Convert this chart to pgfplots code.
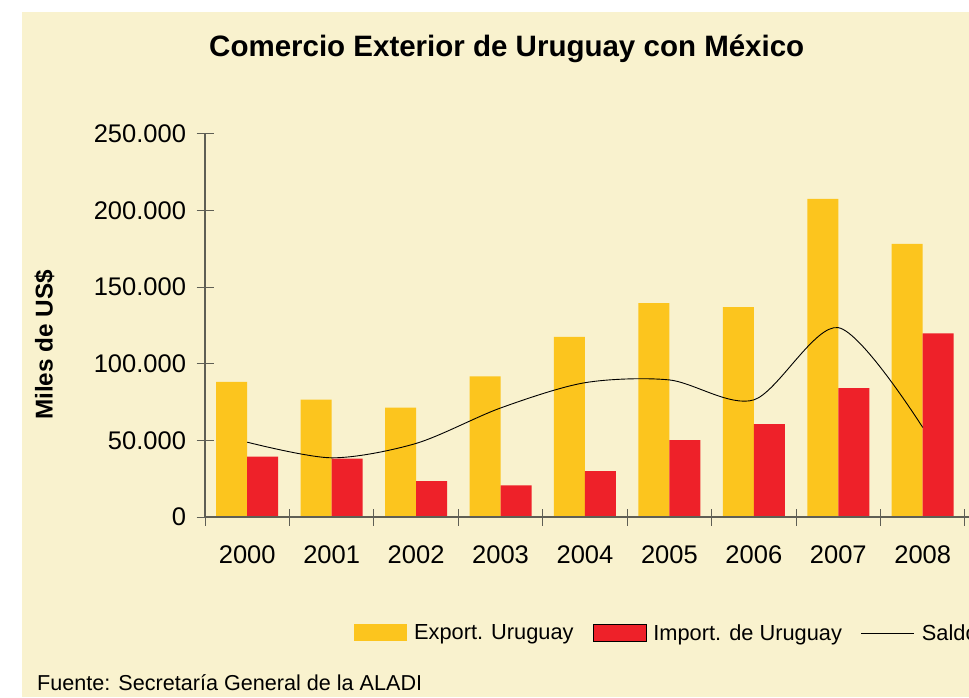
\documentclass[border=0pt]{standalone}
\usepackage{fontspec}
\setmainfont{Liberation Sans}
\usepackage{pgfplots}
\pgfplotsset{compat=1.18}
\definecolor{bgcream}{RGB}{249,242,206}
\definecolor{expyellow}{RGB}{252,197,30}
\definecolor{impred}{RGB}{238,33,41}
\definecolor{axgray}{RGB}{95,95,85}
\begin{document}
\begin{tikzpicture}[x=1pt,y=1pt]
\clip (0,0) rectangle (969,697);
\fill[white] (0,0) rectangle (969,697);
\fill[bgcream] (22,0) rectangle (969,685);
\begin{axis}[
  at={(205pt,180pt)}, anchor=south west,
  scale only axis, width=768.4pt, height=383.3pt,
  xmin=-0.5, xmax=8.6, ymin=0, ymax=250000,
  axis x line=bottom, axis y line=left,
  axis line style={-, draw=axgray, line width=1.3pt},
  axis on top,
  xtick={-0.5,0.5,...,8.5},
  x tick label as interval,
  xticklabels={2000,2001,2002,2003,2004,2005,2006,2007,2008},
  ytick={0,50000,100000,150000,200000,250000},
  yticklabels={0,50.000,100.000,150.000,200.000,250.000},
  scaled y ticks=false,
  tick style={draw=axgray, line width=1pt},
  major tick length=17pt, tick align=center,
  tick label style={font=\fontsize{25.5}{30}\selectfont},
  xticklabel style={yshift=-17pt},
  yticklabel style={xshift=-7pt},
  title={Comercio Exterior de Uruguay con México},
  title style={font=\bfseries\fontsize{29.5}{34}\selectfont, at={(axis description cs:0.3927,1.187)}, anchor=base},
  ylabel={Miles de US\$},
  ylabel style={font=\bfseries\fontsize{24.3}{28}\selectfont, at={(axis description cs:-0.1982,0.4487)}, anchor=base},
  legend columns=-1,
  legend style={at={(axis description cs:0.194,-0.3026)}, anchor=west, draw=none, fill=none, inner sep=0pt, outer sep=0pt,
    font=\fontsize{21.8}{26}\selectfont,
    /tikz/every odd column/.append style={column sep=5pt},
    /tikz/every even column/.append style={column sep=17pt}},
]
\addplot[ybar, bar width=31pt, bar shift=-15.5pt, fill=expyellow, draw=none,
  legend image code/.code={\fill[expyellow] (0pt,-8.5pt) rectangle (53pt,8.5pt);}]
  coordinates {(0,88100) (1,76600) (2,71400) (3,91800) (4,117500) (5,139500) (6,136900) (7,207500) (8,178200)};
\addplot[ybar, bar width=31pt, bar shift=15.5pt, fill=impred, draw=none,
  legend image code/.code={\filldraw[fill=impred, draw=black, line width=0.8pt] (0pt,-8.5pt) rectangle (53pt,8.5pt);}]
  coordinates {(0,39300) (1,38000) (2,23400) (3,20700) (4,29900) (5,50100) (6,60500) (7,84000) (8,119800)};
\addplot[black, line width=0.9pt, smooth, tension=0.5,
  legend image code/.code={\draw[black, line width=0.9pt] (0pt,0pt) -- (53pt,0pt);}]
  coordinates {(0,48800) (1,38600) (2,48000) (3,71100) (4,87600) (5,89400) (6,76400) (7,123500) (8,58400)};
\legend{Export. Uruguay, Import. de Uruguay, Saldo}
\end{axis}
\node[anchor=base west, font=\fontsize{21.6}{26}\selectfont, inner sep=0pt] at (37,6.3) {Fuente: Secretaría General de la ALADI};
\end{tikzpicture}
\end{document}
